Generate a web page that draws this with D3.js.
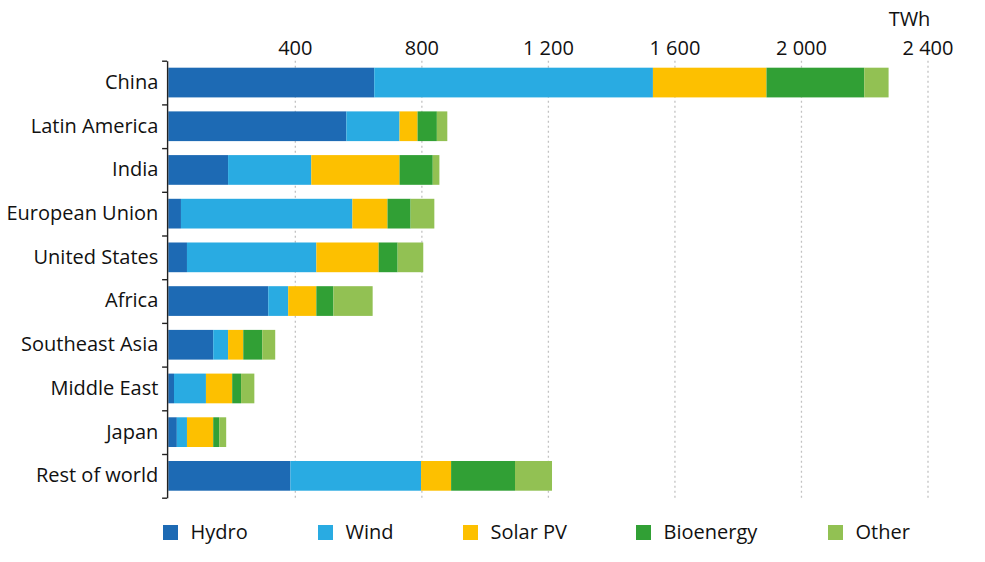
<!DOCTYPE html>
<html>
<head>
<meta charset="utf-8">
<script src="https://cdn.jsdelivr.net/npm/d3@7"></script>
<style>
  html, body { margin: 0; padding: 0; background: #fff; }
  svg { display: block; font-family: "Open Sans", "Noto Sans", sans-serif; }
</style>
</head>
<body>
<svg id="chart" width="985" height="562"></svg>
<script>
// ---- data ----
const categories = ["China", "Latin America", "India", "European Union", "United States",
                    "Africa", "Southeast Asia", "Middle East", "Japan", "Rest of world"];
const seriesNames = ["Hydro", "Wind", "Solar PV", "Bioenergy", "Other"];
const hydro     = [651, 563, 189,  40,  59, 316, 142,  18, 27, 386];
const wind      = [881, 168, 263, 542, 409,  63,  47, 101, 32, 413];
const solarPV   = [359,  57, 279, 111, 197,  89,  48,  83, 83,  95];
const bioenergy = [309,  61, 105,  73,  60,  54,  60,  28, 19, 202];
const other     = [ 77,  33,  21,  75,  81, 124,  41,  42, 22, 117];
const tickValues = [400, 800, 1200, 1600, 2000, 2400];
const unitLabel = "TWh";

const colors = ["#1d6ab4", "#29abe2", "#fdc000", "#31a035", "#92c153"];

// ---- build table ----
const seriesArrays = [hydro, wind, solarPV, bioenergy, other];
const table = categories.map((c, i) => {
  const row = { region: c };
  seriesNames.forEach((s, j) => row[s] = seriesArrays[j][i]);
  return row;
});
const stacked = d3.stack().keys(seriesNames)(table);

// ---- layout ----
const svg = d3.select("#chart");
const plotTop = 60.7, plotBottom = 497.7, plotLeft = 168.3, plotRight = 927.5;
const fontSize = 20;
const textColor = "#111";

const x = d3.scaleLinear().domain([0, 2400]).range([plotLeft, plotRight]);
const y = d3.scaleBand().domain(categories).range([plotTop, plotBottom])
  .paddingInner(0.32).paddingOuter(0.16);

const locale = d3.formatLocale({ decimal: ".", thousands: "\u2009", grouping: [3], currency: ["", ""] });
const fmt = v => locale.format(",")(v).replace("\u2009", " ");

// gridlines + top labels
const topAxis = svg.append("g")
  .attr("transform", `translate(0,${plotTop})`)
  .call(d3.axisTop(x).tickValues(tickValues).tickFormat(fmt)
        .tickSize(-(plotBottom - plotTop)).tickPadding(6));
topAxis.select(".domain").remove();
topAxis.selectAll(".tick line")
  .attr("stroke", "#c2c2c2").attr("stroke-width", 1.3).attr("stroke-dasharray", "2,3");
topAxis.selectAll(".tick text")
  .attr("font-size", fontSize).attr("fill", textColor)
  .style("font-family", "'Open Sans', sans-serif");

svg.append("text")
  .attr("x", x(2400) - 18).attr("y", 26)
  .attr("text-anchor", "middle")
  .attr("font-size", fontSize).attr("fill", textColor)
  .text(unitLabel);

// bars
svg.append("g").selectAll("g")
  .data(stacked).join("g")
  .attr("fill", (d, i) => colors[i])
  .selectAll("rect")
  .data(d => d.map(v => ({ v, region: v.data.region })))
  .join("rect")
  .attr("x", d => x(d.v[0]))
  .attr("width", d => x(d.v[1]) - x(d.v[0]))
  .attr("y", d => y(d.region))
  .attr("height", y.bandwidth());

// left axis: labels at band centers
const leftLabels = svg.append("g")
  .attr("transform", `translate(${plotLeft - 10},0)`)
  .call(d3.axisLeft(y).tickSize(0).tickPadding(0));
leftLabels.select(".domain").remove();
leftLabels.selectAll(".tick text")
  .attr("font-size", fontSize).attr("fill", textColor)
  .style("font-family", "'Open Sans', sans-serif");

// left axis: line + boundary ticks
const boundary = d3.scaleLinear().domain([0, categories.length]).range([plotTop, plotBottom]);
const leftLine = svg.append("g")
  .attr("transform", `translate(${plotLeft - 1.2},0)`)
  .call(d3.axisLeft(boundary).tickValues(d3.range(categories.length + 1))
        .tickSize(5).tickSizeOuter(0).tickFormat(""));
leftLine.select(".domain").attr("stroke", "#222").attr("stroke-width", 1.4);
leftLine.selectAll(".tick line").attr("stroke", "#222").attr("stroke-width", 1.4);

// legend
const legendX = [163, 318, 463, 636, 828];
const legend = svg.append("g").selectAll("g")
  .data(seriesNames).join("g")
  .attr("transform", (d, i) => `translate(${legendX[i]},525)`);
legend.append("rect")
  .attr("width", 15).attr("height", 15)
  .attr("fill", (d, i) => colors[i]);
legend.append("text")
  .attr("x", 27.5).attr("y", 14)
  .attr("font-size", fontSize).attr("fill", textColor)
  .text(d => d);
</script>
</body>
</html>
